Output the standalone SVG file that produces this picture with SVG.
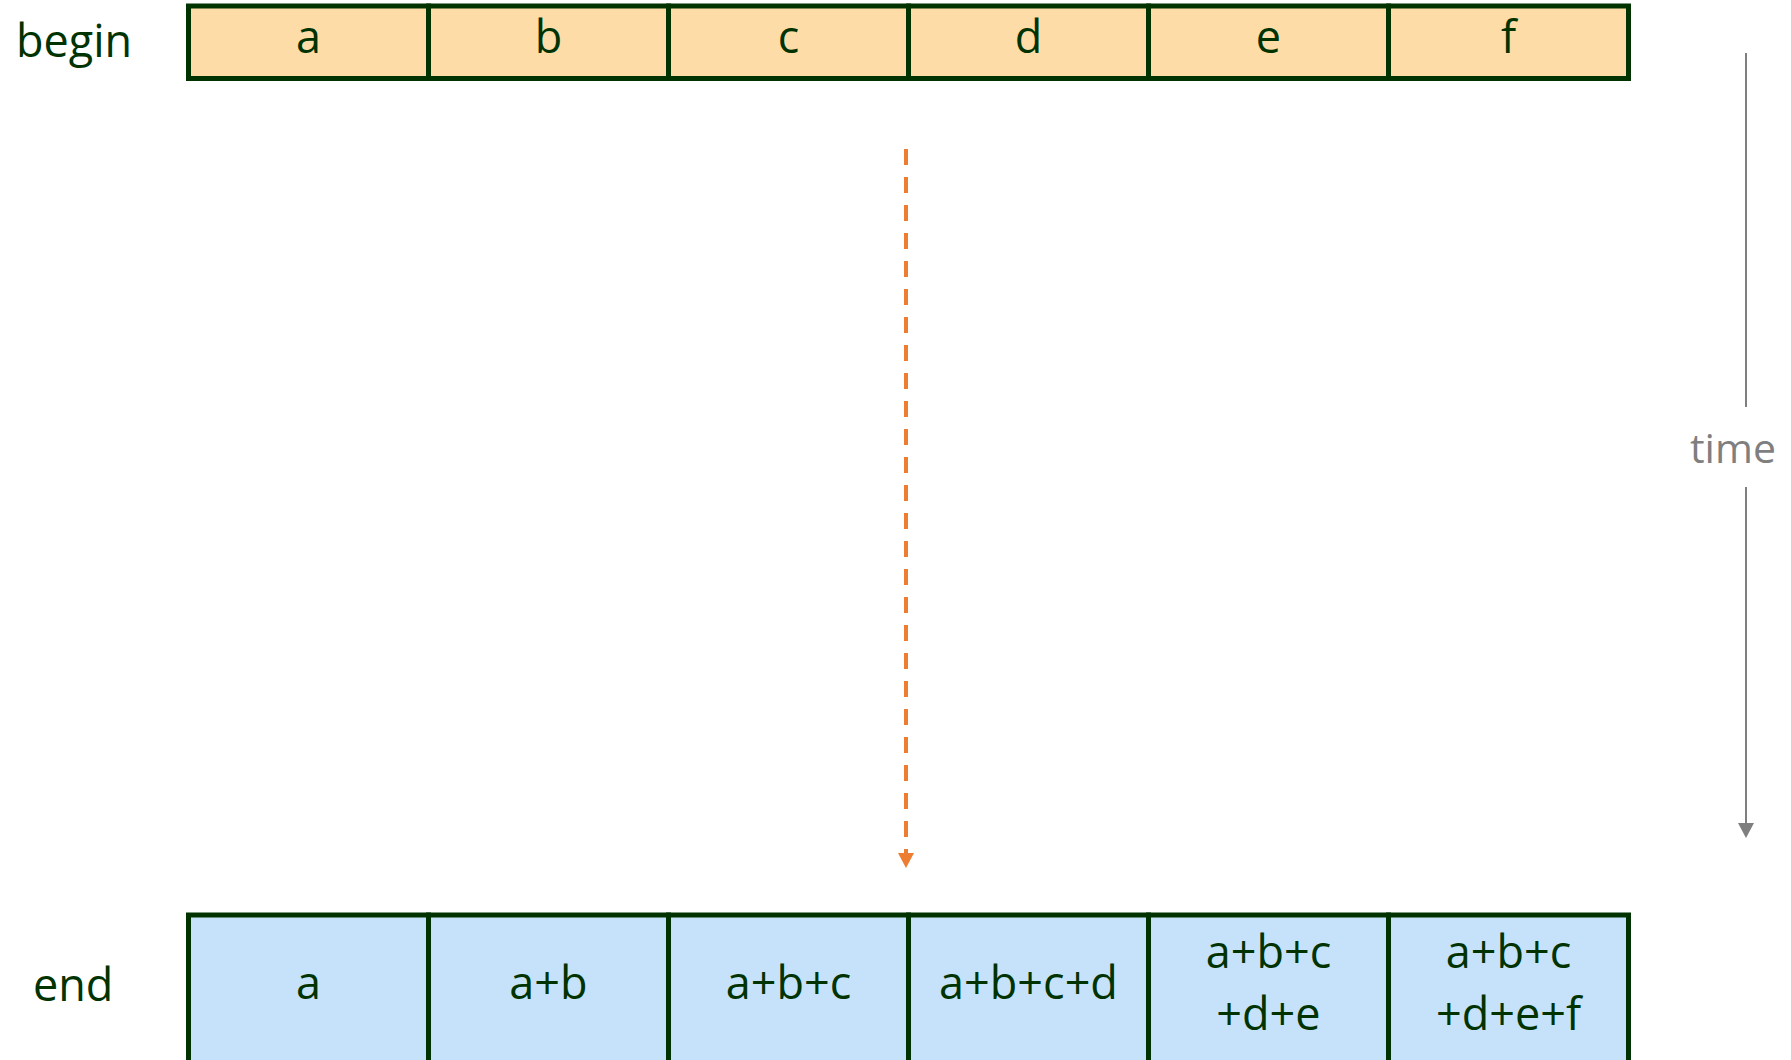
<svg xmlns="http://www.w3.org/2000/svg" width="1791" height="1060" viewBox="0 0 1791 1060">
<style>
.lbl{font-family:"Open Sans","Noto Sans",sans-serif;font-size:45px;fill:#003300;text-anchor:middle}
.side{font-family:"Open Sans","Noto Sans",sans-serif;font-size:45px;fill:#003300}
.top{fill:#FDDCA8;stroke:#003300;stroke-width:5}
.bot{fill:#C6E2FB;stroke:#003300;stroke-width:5}
.time{font-family:"Open Sans","Noto Sans",sans-serif;font-size:41px;fill:#7F7F7F}
</style>
<rect width="1791" height="1060" fill="#fff"/>
<text class="side" x="16" y="57">begin</text>
<text class="side" x="33" y="1001">end</text>
<g id="begin-a"><rect class="top" x="188.5" y="6" width="240" height="72.5"/><text class="lbl" x="308.5" y="53">a</text></g>
<g id="begin-b"><rect class="top" x="428.5" y="6" width="240" height="72.5"/><text class="lbl" x="548.5" y="53">b</text></g>
<g id="begin-c"><rect class="top" x="668.5" y="6" width="240" height="72.5"/><text class="lbl" x="788.5" y="53">c</text></g>
<g id="begin-d"><rect class="top" x="908.5" y="6" width="240" height="72.5"/><text class="lbl" x="1028.5" y="53">d</text></g>
<g id="begin-e"><rect class="top" x="1148.5" y="6" width="240" height="72.5"/><text class="lbl" x="1268.5" y="53">e</text></g>
<g id="begin-f"><rect class="top" x="1388.5" y="6" width="240" height="72.5"/><text class="lbl" x="1508.5" y="53">f</text></g>
<g id="end-1"><rect class="bot" x="188.5" y="915" width="240" height="170"/><text class="lbl" x="308.5" y="999">a</text></g>
<g id="end-2"><rect class="bot" x="428.5" y="915" width="240" height="170"/><text class="lbl" x="548.5" y="999">a+b</text></g>
<g id="end-3"><rect class="bot" x="668.5" y="915" width="240" height="170"/><text class="lbl" x="788.5" y="999">a+b+c</text></g>
<g id="end-4"><rect class="bot" x="908.5" y="915" width="240" height="170"/><text class="lbl" x="1028.5" y="999">a+b+c+d</text></g>
<g id="end-5"><rect class="bot" x="1148.5" y="915" width="240" height="170"/><text class="lbl" x="1268.5" y="968">a+b+c</text><text class="lbl" x="1268.5" y="1030">+d+e</text></g>
<g id="end-6"><rect class="bot" x="1388.5" y="915" width="240" height="170"/><text class="lbl" x="1508.5" y="968">a+b+c</text><text class="lbl" x="1508.5" y="1030">+d+e+f</text></g>
<g id="connectors">
<line x1="906" y1="149" x2="906" y2="853" stroke="#ED7D31" stroke-width="4" stroke-dasharray="16 12"/>
<path d="M898,853 L914,853 L906,868 Z" fill="#ED7D31"/>
<line x1="1746" y1="53" x2="1746" y2="407" stroke="#7F7F7F" stroke-width="2"/>
<line x1="1746" y1="487" x2="1746" y2="824" stroke="#7F7F7F" stroke-width="2"/>
<path d="M1738,823 L1754,823 L1746,838 Z" fill="#7F7F7F"/>
</g>
<text class="time" x="1690" y="463">time</text>
</svg>
